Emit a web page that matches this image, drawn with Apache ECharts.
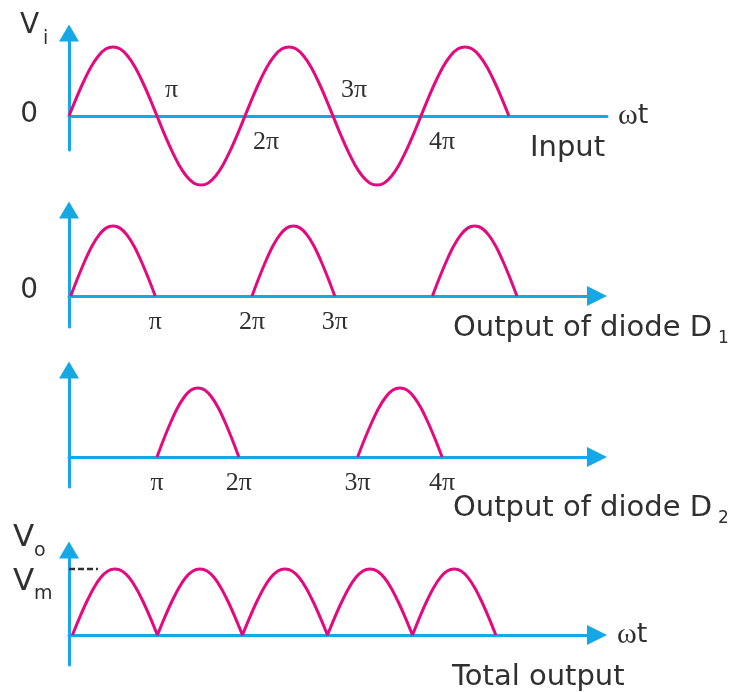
<!DOCTYPE html>
<html>
<head>
<meta charset="utf-8">
<script src="https://cdn.jsdelivr.net/npm/echarts@6/dist/echarts.min.js"></script>
<style>
  html, body { margin: 0; padding: 0; background: #fff; }
  #chart { width: 730px; height: 692px; }
</style>
</head>
<body>
<div id="chart"></div>
<script>
// Shape of one half cycle: relative height at twelve equal steps of the half period
const halfWave = [0, 0.26, 0.5, 0.71, 0.87, 0.97, 1, 0.97, 0.87, 0.71, 0.5, 0.26, 0];

// Input voltage half cycles: [start, end, polarity], ωt in units of π
const inputHalves = [[0, 1, 1], [1, 2, -1], [2, 3, 1], [3, 4, -1], [4, 5, 1]];
// Conduction intervals of diode D1 (ωt / π)
const d1Humps = [[0.02, 0.98], [2.08, 3.02], [4.13, 5.09]];
// Conduction intervals of diode D2 (ωt / π)
const d2Humps = [[1.0, 1.93], [3.28, 4.24]];
// Combined output across the load (ωt / π)
const totalHumps = [[0.04, 1.04], [1.04, 2.04], [2.04, 3.04], [3.04, 4.04], [4.04, 5.02]];

// Tick labels: [ωt / π, text]
const inputTicks = [[1, 'π'], [2, '2π'], [3, '3π'], [4, '4π']];
const d1Ticks = [[0.98, 'π'], [2.08, '2π'], [3.02, '3π']];
const d2Ticks = [[1.0, 'π'], [1.93, '2π'], [3.28, '3π'], [4.24, '4π']];

// Peak level Vm and the extent of its dashed guide
const vmLevel = 1;
const vmGuide = [0, 0.34];

const BLUE = '#14a8e6';
const MAGENTA = '#e5097f';
const INK = '#303030';
const SANS = 'DejaVu Sans';
const SERIF = 'Liberation Serif';

function humpPoints(start, end, sign) {
  const n = halfWave.length - 1;
  return halfWave.map((h, i) => [start + (end - start) * i / n, sign * h]);
}

// Continuous input wave
const inputData = [];
inputHalves.forEach(([s, e, sign], k) => {
  const pts = humpPoints(s, e, sign);
  inputData.push(...(k === 0 ? pts : pts.slice(1)));
});

// Separate humps, broken by null so each arc is drawn on its own
function humpSeries(humps) {
  const out = [];
  humps.forEach(([s, e], k) => {
    if (k > 0) out.push(null);
    out.push(...humpPoints(s, e, 1));
  });
  return out;
}

const panels = [
  { top: 33,  bottom: 692 - 150, right: 123, xMax: 6.114, yMin: -0.493, yMax: 1.203, arrow: false, name: true, nameGap: 11 },
  { top: 210, bottom: 692 - 327, right: 133, xMax: 6.0,   yMin: -0.443, yMax: 1.229, arrow: true },
  { top: 370, bottom: 692 - 487, right: 133, xMax: 6.0,   yMin: -0.435, yMax: 1.261, arrow: true },
  { top: 550, bottom: 692 - 665, right: 133, xMax: 6.21,  yMin: -0.455, yMax: 1.288, arrow: true, name: true, nameGap: 20 }
];

const hidden = { axisTick: { show: false }, axisLabel: { show: false }, splitLine: { show: false } };

const grid = panels.map(p => ({ left: 69, right: p.right, top: p.top, bottom: p.bottom }));

const xAxis = panels.map((p, i) => Object.assign({
  type: 'value', gridIndex: i, min: 0, max: p.xMax,
  axisLine: {
    onZero: true,
    lineStyle: { color: BLUE, width: 3 },
    symbol: p.arrow ? ['none', 'triangle'] : ['none', 'none'],
    symbolSize: [20, 20]
  },
  name: p.name ? '{w|ω}{t|t}' : '',
  nameLocation: 'end',
  nameGap: p.nameGap || 10,
  nameTextStyle: {
    rich: {
      w: { fontFamily: SERIF, fontSize: 30, color: INK },
      t: { fontFamily: SANS, fontSize: 27, color: INK }
    }
  }
}, hidden));

const yAxis = panels.map((p, i) => Object.assign({
  type: 'value', gridIndex: i, min: p.yMin, max: p.yMax,
  axisLine: {
    onZero: true,
    lineStyle: { color: BLUE, width: 3 },
    symbol: ['none', 'triangle'],
    symbolSize: [20, 17]
  }
}, hidden));

function curve(i, data) {
  return {
    type: 'line', xAxisIndex: i, yAxisIndex: i, data: data,
    smooth: 0.3, symbol: 'none', clip: false, connectNulls: false,
    lineStyle: { color: MAGENTA, width: 3 }, z: 5, silent: true
  };
}

// Tick text anchored to its ωt position on the axis
function ticks(i, list, opts) {
  return {
    type: 'scatter', xAxisIndex: i, yAxisIndex: i, symbolSize: 0, silent: true,
    itemStyle: { opacity: 1 },
    data: list.map(([x, t], k) => ({
      value: [x, 0],
      label: {
        show: true, formatter: t, position: 'inside',
        align: opts.align,
        offset: [opts.dx, opts.dy(k)],
        fontFamily: SERIF, fontSize: 26, color: INK, opacity: 1
      }
    }))
  };
}

function zeroLabel(i, dy) {
  return {
    type: 'scatter', xAxisIndex: i, yAxisIndex: i, symbolSize: 0, silent: true,
    itemStyle: { opacity: 1 },
    data: [{ value: [0, 0], label: {
      show: true, formatter: '0', position: 'left', distance: 31, offset: [0, dy],
      fontFamily: SANS, fontSize: 28, color: INK, opacity: 1
    } }]
  };
}

const series = [
  curve(0, inputData),
  curve(1, humpSeries(d1Humps)),
  curve(2, humpSeries(d2Humps)),
  curve(3, humpSeries(totalHumps)),
  ticks(0, inputTicks, { align: 'left', dx: 8, dy: k => (k % 2 === 0 ? -26 : 26) }),
  ticks(1, d1Ticks, { align: 'center', dx: 0, dy: () => 26 }),
  ticks(2, d2Ticks, { align: 'center', dx: 0, dy: () => 26 }),
  zeroLabel(0, -1),
  zeroLabel(1, -5),
  {
    type: 'line', xAxisIndex: 3, yAxisIndex: 3, symbol: 'none', silent: true, clip: false,
    data: [[vmGuide[0], vmLevel], [vmGuide[1], vmLevel]],
    lineStyle: { color: INK, width: 2.5, type: [6, 3] }, z: 4
  }
];

function label(x, y, s, size) {
  return {
    type: 'text', x: x, y: y, silent: true,
    style: { text: s, fontFamily: SANS, fontSize: size, fill: INK, verticalAlign: 'middle' }
  };
}

// Axis symbols and panel captions
const graphic = [
  label(20, 26, 'V', 28),
  label(43, 39, 'i', 19),
  label(13, 538, 'V', 31),
  label(34, 551, 'o', 19),
  label(13, 582, 'V', 31),
  label(34, 594, 'm', 19),
  label(530, 148, 'Input', 29),
  label(453, 328, 'Output of diode D', 29),
  label(718, 339, '1', 17),
  label(453, 508, 'Output of diode D', 29),
  label(718, 519, '2', 17),
  label(452, 677, 'Total output', 29)
];

const chart = echarts.init(document.getElementById('chart'), null, { renderer: 'canvas' });
chart.setOption({
  animation: false,
  backgroundColor: '#ffffff',
  grid, xAxis, yAxis, series, graphic
});
</script>
</body>
</html>
